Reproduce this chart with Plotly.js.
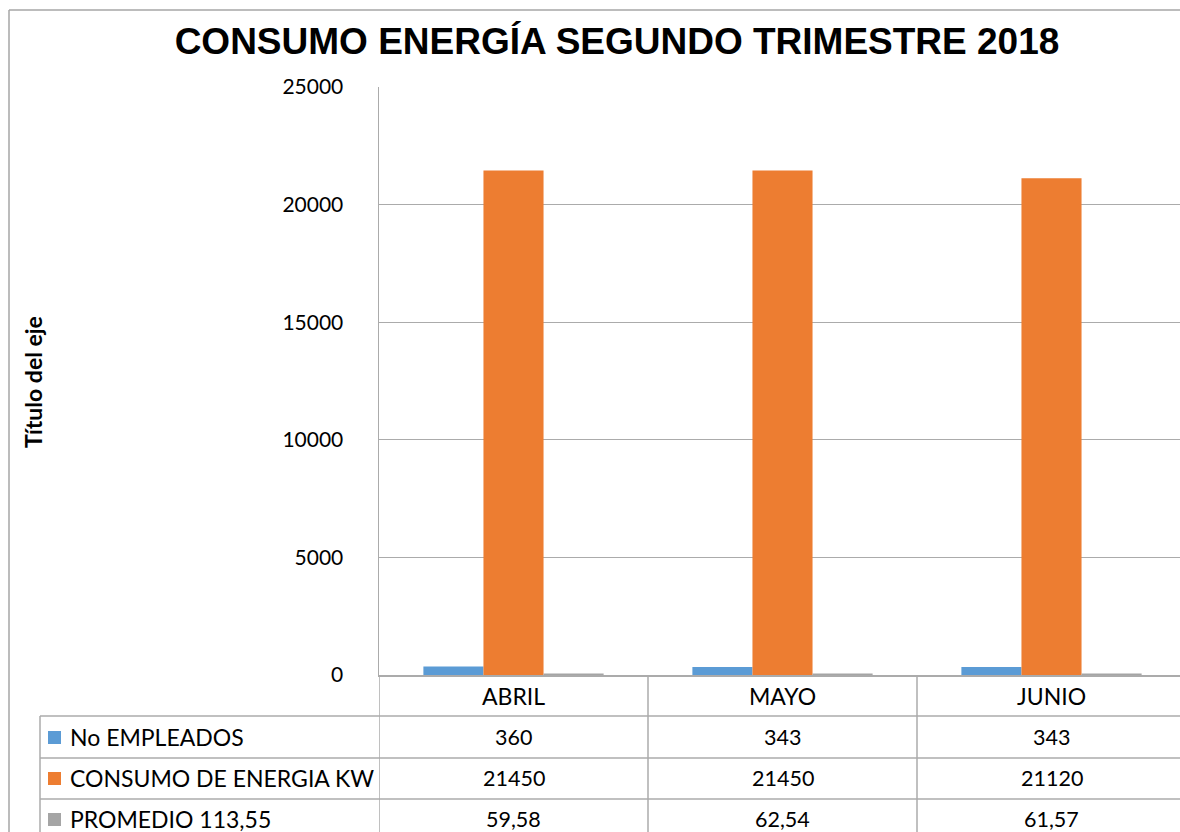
<!DOCTYPE html>
<html><head><meta charset="utf-8">
<script src="https://cdn.plot.ly/plotly-3.0.1.min.js"></script>
<style>html,body{margin:0;padding:0;overflow:hidden;background:#fff}#chart{width:1180px;height:832px}</style>
</head><body><div id="chart"></div>
<script>
var categories = ["ABRIL", "MAYO", "JUNIO"];
var seriesNames = ["No EMPLEADOS", "CONSUMO DE ENERGIA KW", "PROMEDIO 113,55"];
var empleados = [360, 343, 343];
var consumo = [21450, 21450, 21120];
var promedio = [59.58, 62.54, 61.57];
var tableText = [["360", "343", "343"], ["21450", "21450", "21120"], ["59,58", "62,54", "61,57"]];
var colors = ["#5B9BD5", "#ED7D31", "#A5A5A5"];
var yTicks = [0, 5000, 10000, 15000, 20000, 25000];

var W = 1180, H = 832, L = 379, T = 87, B = 675;
var PW = W - L, PH = B - T;
function px(x) { return (x - L) / PW; }
function py(y) { return (B - y) / PH; }
var FONT = "Lato, 'Open Sans', sans-serif";
var grid = "#ABABAB";

var values = [empleados, consumo, promedio];
var traces = values.map(function (v, i) {
  return { type: "bar", x: categories, y: v, name: seriesNames[i],
    marker: { color: colors[i], line: { width: 0 } }, hoverinfo: "x+y" };
});

var shapes = [];
var annotations = [];
// outer chart border
shapes.push({ type: "line", xref: "paper", yref: "paper", x0: px(9), x1: px(9), y0: py(10), y1: py(840), line: { color: "#A6A6A6", width: 1.5 } });
shapes.push({ type: "line", xref: "paper", yref: "paper", x0: px(9), x1: px(1190), y0: py(10), y1: py(10), line: { color: "#A6A6A6", width: 1.5 } });
// table horizontal lines
var rowLines = [716, 758, 799];
rowLines.forEach(function (y) {
  shapes.push({ type: "line", xref: "paper", yref: "paper", x0: px(40), x1: px(1190), y0: py(y), y1: py(y), line: { color: grid, width: 1.5 } });
});
// table left border
shapes.push({ type: "line", xref: "paper", yref: "paper", x0: px(40), x1: px(40), y0: py(716), y1: py(845), line: { color: grid, width: 1.5 } });
// table vertical lines at category boundaries
for (var c = 0; c < categories.length; c++) {
  shapes.push({ type: "line", xref: "x", yref: "paper", x0: c - 0.5, x1: c - 0.5, y0: 0, y1: py(845), line: { color: grid, width: 1.5 } });
}
// category labels in header row
categories.forEach(function (cat) {
  annotations.push({ xref: "x", yref: "paper", x: cat, y: py(696), text: cat, showarrow: false, xanchor: "center", yanchor: "middle", font: { family: FONT, size: 23, color: "#000" } });
});
var rowCenters = [737, 778, 819];
seriesNames.forEach(function (nm, i) {
  var yc = rowCenters[i];
  shapes.push({ type: "rect", xref: "paper", yref: "paper", x0: px(48), x1: px(61), y0: py(yc - 6), y1: py(yc + 7), fillcolor: colors[i], line: { width: 0 } });
  annotations.push({ xref: "paper", yref: "paper", x: px(68), y: py(yc), text: nm, showarrow: false, xanchor: "left", yanchor: "middle", font: { family: FONT, size: 23, color: "#000" } });
  tableText[i].forEach(function (t, j) {
    annotations.push({ xref: "x", yref: "paper", x: categories[j], y: py(yc), text: t, showarrow: false, xanchor: "center", yanchor: "middle", font: { family: FONT, size: 21.5, color: "#000" } });
  });
});
// axis title
annotations.push({ xref: "paper", yref: "paper", x: px(33), y: py(382), text: "<b>Título del eje</b>", textangle: -90, showarrow: false, xanchor: "center", yanchor: "middle", font: { family: FONT, size: 23, color: "#000" } });

var layout = {
  width: W, height: H,
  margin: { l: L, r: 0, t: T, b: H - B, pad: 0 },
  paper_bgcolor: "#fff", plot_bgcolor: "#fff",
  title: { text: "<b>CONSUMO ENERGÍA SEGUNDO TRIMESTRE 2018</b>", xref: "container", yref: "container", x: 617 / W, y: 1 - 41 / H, xanchor: "center", yanchor: "middle", font: { family: "'Liberation Sans', Arial, sans-serif", size: 37, color: "#000" } },
  showlegend: false,
  barmode: "group", bargap: 0.33, bargroupgap: 0,
  xaxis: { type: "category", range: [-0.5, -0.5 + PW / 269], showticklabels: false, ticks: "", showgrid: false, zeroline: false, showline: true, linecolor: grid, linewidth: 1.5, fixedrange: true },
  yaxis: { range: [0, 25000], tickvals: yTicks, ticktext: yTicks.map(String), showgrid: true, gridcolor: grid, gridwidth: 1.2, zeroline: false, showline: true, linecolor: grid, linewidth: 1.5, ticks: "", ticklabelstandoff: 30, tickfont: { family: FONT, size: 21, color: "#000" }, fixedrange: true },
  shapes: shapes, annotations: annotations
};
Plotly.newPlot("chart", traces, layout, { displayModeBar: false, staticPlot: true });
</script></body></html>
